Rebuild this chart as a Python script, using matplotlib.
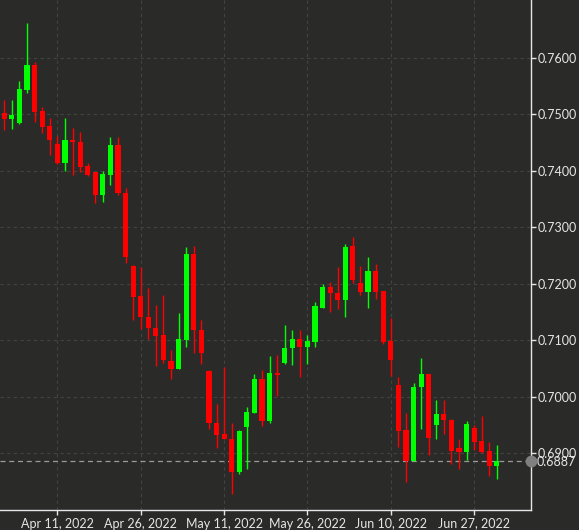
import matplotlib
matplotlib.use("Agg")
import matplotlib.pyplot as plt
import numpy as np

# Daily AUD/USD-style candles, 31 Mar 2022 .. 30 Jun 2022 (business days)
opens = [0.7503, 0.7491, 0.7484, 0.7543, 0.7587, 0.7506, 0.7479, 0.7447, 0.7414, 0.7454,
         0.7451, 0.7408, 0.7397, 0.7357, 0.7393, 0.7446, 0.7361, 0.7232, 0.7178, 0.7142,
         0.7122, 0.7110, 0.7064, 0.7050, 0.7100, 0.7253, 0.7119, 0.7046, 0.6954, 0.6934,
         0.6926, 0.6867, 0.6947, 0.6972, 0.7031, 0.6958, 0.7042, 0.7060, 0.7086, 0.7102,
         0.7088, 0.7097, 0.7158, 0.7195, 0.7183, 0.7171, 0.7267, 0.7202, 0.7186, 0.7222,
         0.7187, 0.7099, 0.7021, 0.6941, 0.6887, 0.7018, 0.7040, 0.6950, 0.6969, 0.6960,
         0.6909, 0.6902, 0.6945, 0.6922, 0.6904, 0.6878]
highs = [0.7526, 0.7525, 0.7558, 0.7662, 0.7593, 0.7513, 0.7493, 0.7461, 0.7494, 0.7476,
         0.7469, 0.7413, 0.7398, 0.7399, 0.7459, 0.7459, 0.7369, 0.7234, 0.7229, 0.7192,
         0.7162, 0.7180, 0.7083, 0.7149, 0.7265, 0.7267, 0.7136, 0.7047, 0.6987, 0.7053,
         0.6953, 0.6941, 0.6982, 0.7040, 0.7047, 0.7072, 0.7074, 0.7127, 0.7119, 0.7119,
         0.7109, 0.7167, 0.7199, 0.7204, 0.7230, 0.7271, 0.7283, 0.7231, 0.7248, 0.7235,
         0.7188, 0.7139, 0.7035, 0.6971, 0.7024, 0.7069, 0.7041, 0.6995, 0.6994, 0.6961,
         0.6926, 0.6957, 0.6950, 0.6966, 0.6920, 0.6915]
lows = [0.7472, 0.7473, 0.7482, 0.7537, 0.7487, 0.7466, 0.7427, 0.7412, 0.7399, 0.7392,
        0.7398, 0.7391, 0.7343, 0.7345, 0.7374, 0.7357, 0.7236, 0.7136, 0.7120, 0.7102,
        0.7054, 0.7060, 0.7031, 0.7049, 0.7088, 0.7078, 0.7059, 0.6944, 0.6910, 0.6925,
        0.6829, 0.6863, 0.6873, 0.6971, 0.6949, 0.6954, 0.7001, 0.7059, 0.7056, 0.7035,
        0.7058, 0.7089, 0.7157, 0.7150, 0.7155, 0.7142, 0.7202, 0.7180, 0.7158, 0.7174,
        0.7093, 0.7037, 0.6912, 0.6849, 0.6886, 0.6943, 0.6897, 0.6926, 0.6935, 0.6882,
        0.6873, 0.6888, 0.6906, 0.6900, 0.6860, 0.6854]
closes = [0.7492, 0.7499, 0.7545, 0.7587, 0.7504, 0.7478, 0.7454, 0.7414, 0.7454, 0.7450,
          0.7407, 0.7393, 0.7357, 0.7394, 0.7446, 0.7360, 0.7247, 0.7177, 0.7142, 0.7122,
          0.7108, 0.7065, 0.7050, 0.7102, 0.7253, 0.7119, 0.7077, 0.6953, 0.6932, 0.6926,
          0.6867, 0.6940, 0.6973, 0.7031, 0.6958, 0.7042, 0.7038, 0.7087, 0.7102, 0.7088,
          0.7099, 0.7161, 0.7195, 0.7183, 0.7171, 0.7266, 0.7207, 0.7186, 0.7222, 0.7186,
          0.7097, 0.7065, 0.6940, 0.6887, 0.7018, 0.7040, 0.6928, 0.6969, 0.6959, 0.6904,
          0.6902, 0.6952, 0.6920, 0.6903, 0.6878, 0.6887]

tick_idx = [7, 18, 29, 40, 51, 62]
tick_labels = ["Apr 11, 2022", "Apr 26, 2022", "May 11, 2022",
               "May 26, 2022", "Jun 10, 2022", "Jun 27, 2022"]
y_ticks = [0.6900, 0.7000, 0.7100, 0.7200, 0.7300, 0.7400, 0.7500, 0.7600]
last_price = closes[-1]

BG = "#2a2b29"
FG = "#e6e6e6"
UP = "#00ff00"
DN = "#ff0000"

plt.rcParams['font.family'] = ['Lato', 'DejaVu Sans']

fig = plt.figure(figsize=(5.79, 5.30), dpi=100, facecolor=BG)
ax = fig.add_axes([0.0, 1 - 510 / 530, 531 / 579, 510 / 530])
ax.set_facecolor(BG)

x = np.arange(len(opens))
o = np.array(opens); h = np.array(highs); l = np.array(lows); c = np.array(closes)
up = c >= o
cols = np.where(up, UP, DN)

ax.vlines(x, l, h, colors=cols, linewidth=1.0, zorder=3)
body_bottom = np.minimum(o, c)
body_h = np.maximum(np.abs(c - o), 0.00012)
ax.bar(x, body_h, bottom=body_bottom, width=0.68, color=cols, edgecolor='none', zorder=4)

ax.set_xlim(-0.57, 69.5)
ax.set_ylim(0.6800, 0.7702)

ax.set_xticks(tick_idx)
ax.set_xticklabels(tick_labels)
ax.yaxis.tick_right()
ax.set_yticks(y_ticks)
ax.set_yticklabels([f"{v:.4f}" for v in y_ticks])

ax.grid(True, color="#434441", linestyle=(0, (3, 3)), linewidth=0.8, zorder=0)

for s in ['left', 'top']:
    ax.spines[s].set_visible(False)
for s in ['right', 'bottom']:
    ax.spines[s].set_color(FG)
    ax.spines[s].set_linewidth(1.0)

ax.tick_params(axis='both', colors=FG, labelcolor=FG, labelsize=9, length=3.5, width=1)
ax.tick_params(axis='y', pad=1.5)
ax.tick_params(axis='x', pad=2)

# last price line, marker and label
ax.axhline(last_price, color="#9a9a9a", linestyle=(0, (4, 3)), linewidth=0.9, zorder=2)
ax.plot([1.0], [last_price], marker='o', markersize=7.5, color="#808080",
        transform=ax.get_yaxis_transform(), clip_on=False, zorder=6)
ax.annotate(f"{last_price:.4f}", xy=(1.0, last_price), xycoords=('axes fraction', 'data'),
            xytext=(4.1, -1), textcoords='offset points', va='center', ha='left',
            color=FG, fontsize=9, annotation_clip=False)

fig.savefig("out.png", dpi=100, facecolor=BG)
